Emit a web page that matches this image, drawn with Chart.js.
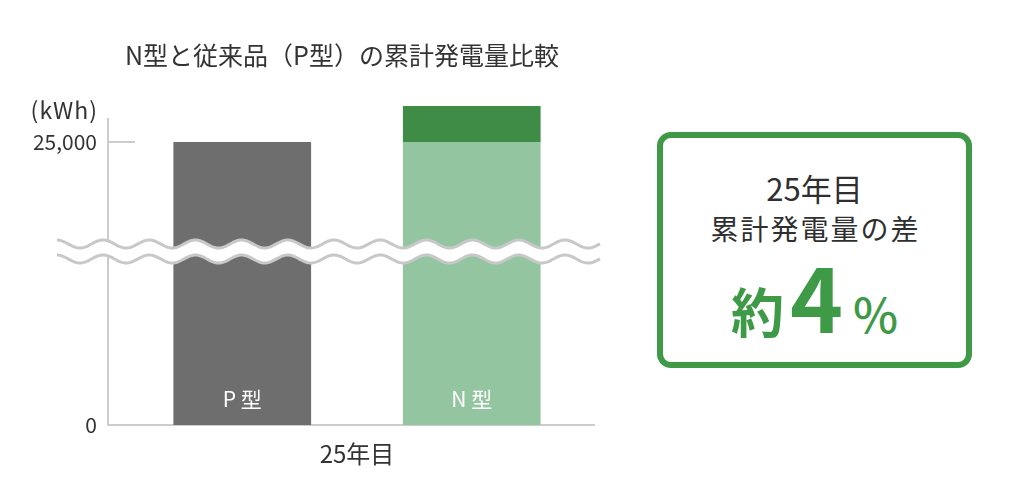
<!DOCTYPE html>
<html>
<head>
<meta charset="utf-8">
<script src="https://cdn.jsdelivr.net/npm/chart.js@4"></script>
<style>
  html, body { margin:0; padding:0; background:#fff; }
  body { width:1024px; height:490px; position:relative; overflow:hidden; font-family:"Noto Sans CJK JP","Noto Sans",sans-serif; }
  #wrap { position:absolute; left:0; top:0; width:640px; height:490px; }
  #box { position:absolute; left:657px; top:132px; width:315px; height:236px; box-sizing:border-box;
         border:6px solid #3f9a48; border-radius:14px; }
  .t { position:absolute; left:0; width:100%; text-align:center; color:#2f2f2f; font-weight:400; }
  #l1 { top:30px; font-size:31px; line-height:40px; }
  #l2 { top:70px; font-size:28px; line-height:40px; letter-spacing:2px; text-indent:2px; }
  #l3 { top:111px; display:flex; justify-content:center; align-items:baseline; color:#3f9a48; font-weight:700; line-height:1; white-space:nowrap; }
  #l3 .a { font-size:53px; }
  #l3 .b { font-size:90px; margin-left:6px; }
  #l3 .c { font-size:48px; margin-left:10px; font-weight:500; }
</style>
</head>
<body>
<div id="wrap"><canvas id="c"></canvas></div>
<div id="box">
  <div class="t" id="l1">25年目</div>
  <div class="t" id="l2">累計発電量の差</div>
  <div class="t" id="l3"><span class="a">約</span><span class="b">4</span><span class="c">%</span></div>
</div>
<script>
// ---- data ----
const titleText = 'N型と従来品（P型）の累計発電量比較';
const categories = ['25年目'];
const pValues = [25000];        // 従来品（P型）
const nBaseValues = [25000];    // N型（P型と同じ部分）
const nExtraValues = [1000];    // N型の上乗せ分（約4%）
const yTicks = [0, 25000];
const yUnit = '(kWh)';
const barLabels = ['P 型', 'N 型'];
const yMax = 26000;
const breakValue = 25000;

// ---- broken linear scale (schematic axis with wave break) ----
const breakFraction = 0.887;
class BrokenLinearScale extends Chart.LinearScale {
  getPixelForValue(value) {
    if (value === null || value === undefined || isNaN(value)) return NaN;
    let d;
    if (value <= breakValue) d = (value - this.min) / (breakValue - this.min) * breakFraction;
    else d = breakFraction + (value - breakValue) / (this.max - breakValue) * (1 - breakFraction);
    return this.getPixelForDecimal(d);
  }
  getValueForPixel(pixel) {
    const d = this.getDecimalForPixel(pixel);
    if (d <= breakFraction) return this.min + d / breakFraction * (breakValue - this.min);
    return breakValue + (d - breakFraction) / (1 - breakFraction) * (this.max - breakValue);
  }
}
BrokenLinearScale.id = 'brokenLinear';
BrokenLinearScale.defaults = Chart.LinearScale.defaults;
Chart.register(BrokenLinearScale);

const FONT = '"Noto Sans CJK JP","Noto Sans",sans-serif';
const TEXT = '#333333';
const LINE = '#cccccc';

const decor = {
  id: 'decor',
  beforeDatasetsDraw(chart) {
    const {ctx, chartArea: a, scales: {y}} = chart;
    ctx.save();
    // title
    ctx.fillStyle = TEXT; ctx.font = '25px ' + FONT;
    ctx.textAlign = 'center'; ctx.textBaseline = 'middle';
    ctx.fillText(titleText, 342, 55);
    // axis lines and 25,000 tick
    ctx.strokeStyle = LINE; ctx.lineWidth = 2;
    ctx.beginPath();
    ctx.moveTo(a.left, a.top + 12); ctx.lineTo(a.left, a.bottom);
    ctx.lineTo(a.right - 11, a.bottom);
    const yb = y.getPixelForValue(breakValue);
    ctx.moveTo(a.left, yb); ctx.lineTo(a.left + 27, yb);
    ctx.stroke();
    // unit label
    ctx.fillStyle = TEXT; ctx.font = '23px ' + FONT;
    ctx.letterSpacing = '1px';
    ctx.textAlign = 'right'; ctx.textBaseline = 'middle';
    ctx.fillText(yUnit, a.left - 10, yb - 32);
    ctx.restore();
  },
  afterDatasetsDraw(chart) {
    const {ctx, chartArea: a} = chart;
    // bar labels
    ctx.save();
    ctx.fillStyle = '#ffffff'; ctx.font = '21px ' + FONT;
    ctx.textAlign = 'center'; ctx.textBaseline = 'middle';
    [0, 1].forEach((di, i) => {
      const bar = chart.getDatasetMeta(di).data[0];
      ctx.fillText(barLabels[i], bar.x, a.bottom - 26);
    });
    // wave break
    const x0 = 57, x1 = a.right - 6, period = 46.2, amp = 4, peak = 103;
    const yU = a.top + 138, yL = a.top + 153;
    const wave = (x, yc) => yc - amp * Math.cos((x - peak) / period * 2 * Math.PI);
    ctx.beginPath();
    for (let x = x0; x <= x1; x++) x === x0 ? ctx.moveTo(x, wave(x, yU)) : ctx.lineTo(x, wave(x, yU));
    for (let x = x1; x >= x0; x--) ctx.lineTo(x, wave(x, yL));
    ctx.closePath();
    ctx.fillStyle = '#ffffff'; ctx.fill();
    ctx.strokeStyle = '#c8c8c8'; ctx.lineWidth = 3;
    [yU, yL].forEach(yc => {
      ctx.beginPath();
      for (let x = x0; x <= x1; x++) x === x0 ? ctx.moveTo(x, wave(x, yc)) : ctx.lineTo(x, wave(x, yc));
      ctx.stroke();
    });
    ctx.restore();
  }
};

new Chart(document.getElementById('c'), {
  type: 'bar',
  data: {
    labels: categories,
    datasets: [
      { label: 'P型', data: pValues, backgroundColor: '#6e6e6e', stack: 'p' },
      { label: 'N型', data: nBaseValues, backgroundColor: '#93c6a0', stack: 'n' },
      { label: 'N型（差）', data: nExtraValues, backgroundColor: '#3f8c46', stack: 'n' }
    ]
  },
  options: {
    responsive: true,
    maintainAspectRatio: false,
    animation: false,
    layout: { padding: { left: 0, right: 34, top: 106, bottom: 0 } },
    datasets: { bar: { barPercentage: 0.6, categoryPercentage: 0.9217 } },
    plugins: {
      legend: { display: false },
      tooltip: { enabled: false },
      title: { display: false }
    },
    scales: {
      x: {
        stacked: true,
        grid: { display: false, drawTicks: false },
        border: { display: false },
        ticks: { color: TEXT, font: { family: FONT, size: 24 }, padding: 14 },
        afterFit(s) { s.height = 65; }
      },
      y: {
        type: 'brokenLinear',
        stacked: true,
        min: 0, max: yMax,
        grid: { display: false, drawTicks: false },
        border: { display: false },
        afterBuildTicks(s) { s.ticks = yTicks.map(v => ({ value: v })); },
        ticks: {
          color: TEXT, font: { family: FONT, size: 21 }, padding: 11,
          callback: v => v.toLocaleString('en-US')
        },
        afterFit(s) { s.width = 108; }
      }
    }
  },
  plugins: [decor]
});
</script>
</body>
</html>
